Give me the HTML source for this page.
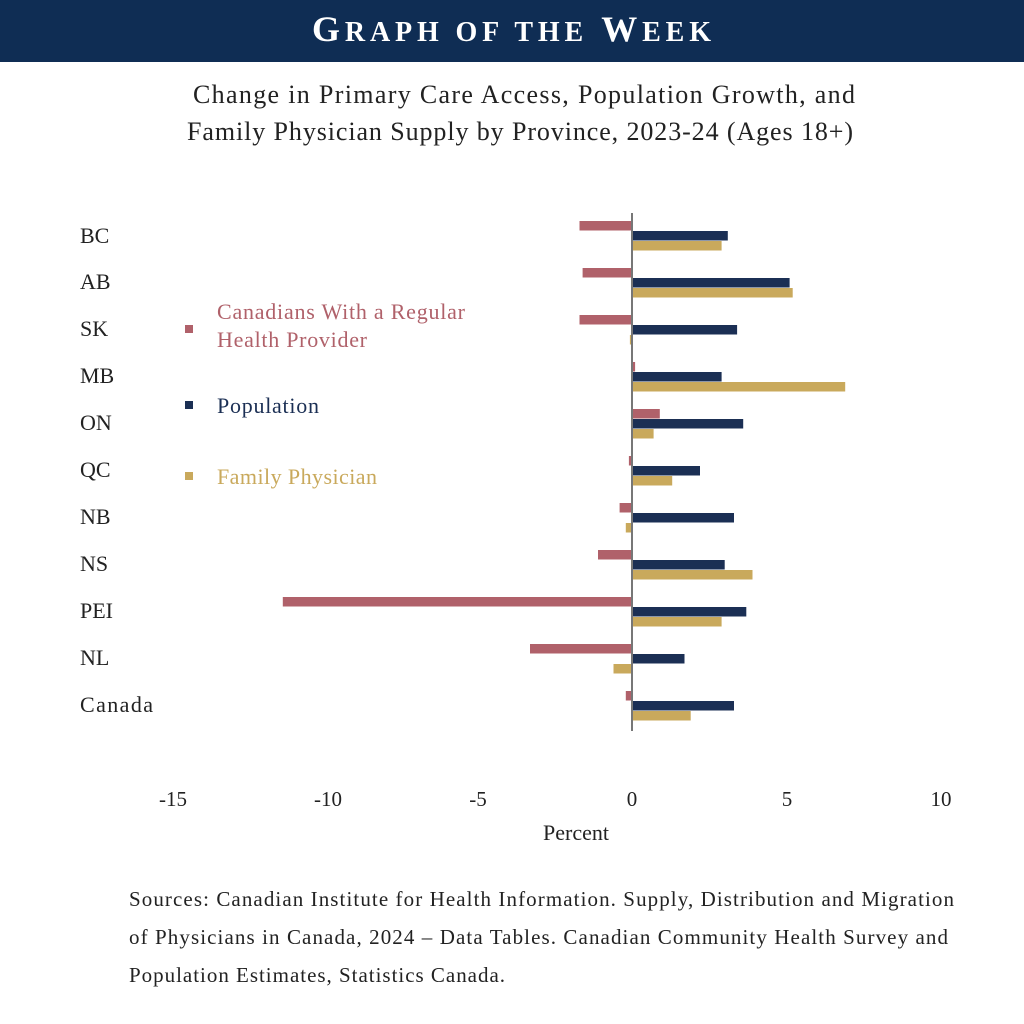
<!DOCTYPE html>
<html><head><meta charset="utf-8"><style>
body{margin:0;background:#fff;}
svg text{font-family:"Liberation Serif",serif;}
</style></head><body>
<svg width="1024" height="1019" xmlns="http://www.w3.org/2000/svg">
<rect x="0" y="0" width="1024" height="62" fill="#0f2d54"/>
<text x="512" y="41" text-anchor="middle" fill="#fff" font-size="36" font-weight="bold" letter-spacing="1" textLength="400">G<tspan font-size="28">RAPH OF THE</tspan> W<tspan font-size="28">EEK</tspan></text>
<text x="193" y="103" font-size="26" fill="#222" textLength="662">Change in Primary Care Access, Population Growth, and</text>
<text x="187" y="140" font-size="26" fill="#222" textLength="666">Family Physician Supply by Province, 2023-24 (Ages 18+)</text>
<g font-size="22" fill="#222">
<text x="80" y="243">BC</text><text x="80" y="289">AB</text><text x="80" y="336">SK</text><text x="80" y="383">MB</text><text x="80" y="430">ON</text><text x="80" y="477">QC</text><text x="80" y="524">NB</text><text x="80" y="571">NS</text><text x="80" y="618">PEI</text><text x="80" y="665">NL</text><text x="80" y="712" textLength="73">Canada</text>
</g>
<g>
<rect x="579.5" y="221" width="52.5" height="9.5" fill="#b0616a"/><rect x="632" y="231" width="95.8" height="9.5" fill="#1b2f54"/><rect x="632" y="241" width="89.6" height="9.5" fill="#c9a95c"/>
<rect x="582.6" y="268" width="49.4" height="9.5" fill="#b0616a"/><rect x="632" y="278" width="157.6" height="9.5" fill="#1b2f54"/><rect x="632" y="288" width="160.7" height="9.5" fill="#c9a95c"/>
<rect x="579.5" y="315" width="52.5" height="9.5" fill="#b0616a"/><rect x="632" y="325" width="105.1" height="9.5" fill="#1b2f54"/><rect x="629.9" y="335" width="2.1" height="9.5" fill="#c9a95c"/>
<rect x="632" y="362" width="3.1" height="9.5" fill="#b0616a"/><rect x="632" y="372" width="89.6" height="9.5" fill="#1b2f54"/><rect x="632" y="382" width="213.2" height="9.5" fill="#c9a95c"/>
<rect x="632" y="409" width="27.8" height="9.5" fill="#b0616a"/><rect x="632" y="419" width="111.2" height="9.5" fill="#1b2f54"/><rect x="632" y="429" width="21.6" height="9.5" fill="#c9a95c"/>
<rect x="628.9" y="456" width="3.1" height="9.5" fill="#b0616a"/><rect x="632" y="466" width="68" height="9.5" fill="#1b2f54"/><rect x="632" y="476" width="40.2" height="9.5" fill="#c9a95c"/>
<rect x="619.6" y="503" width="12.4" height="9.5" fill="#b0616a"/><rect x="632" y="513" width="102" height="9.5" fill="#1b2f54"/><rect x="625.8" y="523" width="6.2" height="9.5" fill="#c9a95c"/>
<rect x="598" y="550" width="34" height="9.5" fill="#b0616a"/><rect x="632" y="560" width="92.7" height="9.5" fill="#1b2f54"/><rect x="632" y="570" width="120.5" height="9.5" fill="#c9a95c"/>
<rect x="282.8" y="597" width="349.2" height="9.5" fill="#b0616a"/><rect x="632" y="607" width="114.3" height="9.5" fill="#1b2f54"/><rect x="632" y="617" width="89.6" height="9.5" fill="#c9a95c"/>
<rect x="530" y="644" width="102" height="9.5" fill="#b0616a"/><rect x="632" y="654" width="52.5" height="9.5" fill="#1b2f54"/><rect x="613.5" y="664" width="18.5" height="9.5" fill="#c9a95c"/>
<rect x="625.8" y="691" width="6.2" height="9.5" fill="#b0616a"/><rect x="632" y="701" width="102" height="9.5" fill="#1b2f54"/><rect x="632" y="711" width="58.7" height="9.5" fill="#c9a95c"/>
</g>
<line x1="632" y1="213" x2="632" y2="731" stroke="#777" stroke-width="2"/>
<rect x="185" y="325" width="8" height="8" fill="#b0616a"/>
<text x="217" y="319" font-size="22" fill="#b0616a" textLength="248">Canadians With a Regular</text>
<text x="217" y="347" font-size="22" fill="#b0616a" textLength="150">Health Provider</text>
<rect x="185" y="401" width="8" height="8" fill="#1b2f54"/>
<text x="217" y="413" font-size="22" fill="#1b2f54" textLength="102">Population</text>
<rect x="185" y="472" width="8" height="8" fill="#c9a95c"/>
<text x="217" y="484" font-size="22" fill="#c9a95c" textLength="160">Family Physician</text>
<g font-size="21" fill="#222" text-anchor="middle">
<text x="173" y="806">-15</text><text x="328" y="806">-10</text><text x="478" y="806">-5</text><text x="632" y="806">0</text><text x="787" y="806">5</text><text x="941" y="806">10</text>
</g>
<text x="576" y="840" text-anchor="middle" font-size="22" fill="#222">Percent</text>
<g font-size="21" fill="#222">
<text x="129" y="906" textLength="825">Sources: Canadian Institute for Health Information. Supply, Distribution and Migration</text>
<text x="129" y="944" textLength="819">of Physicians in Canada, 2024 – Data Tables. Canadian Community Health Survey and</text>
<text x="129" y="982" textLength="376">Population Estimates, Statistics Canada.</text>
</g>
</svg>
</body></html>
